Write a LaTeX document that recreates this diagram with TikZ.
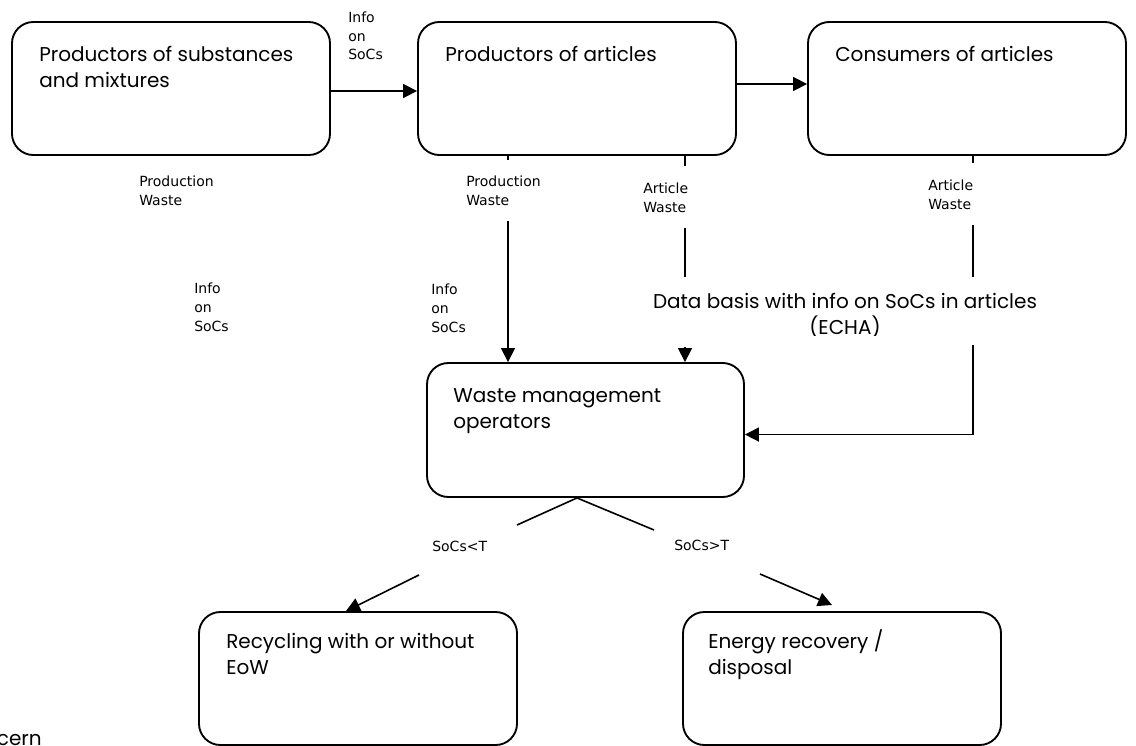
\documentclass[tikz,border=0pt]{standalone}
\usepackage{fontspec}
\setmainfont{Poppins}
\newfontfamily\smallfont{DejaVu Sans}
\usetikzlibrary{arrows.meta}
\begin{document}
\begin{tikzpicture}[x=0.75pt,y=-0.75pt,
  box/.style={draw, line width=1.4pt, rounded corners=16pt, minimum width=238.5pt, minimum height=99.75pt, inner sep=0pt},
  big/.style={font=\fontsize{15pt}{19.5pt}\selectfont, inner sep=0pt, align=left, anchor=base west},
  lbl/.style={font=\smallfont\fontsize{10.5pt}{14pt}\selectfont, inner sep=0pt, align=left, anchor=base west},
  conn/.style={line width=1.2pt},
  arr/.style={conn, -{Triangle[length=10.5pt,width=10.5pt]}}]
\useasboundingbox (0,0) rectangle (1136,746);
\clip (0,0) rectangle (1136,746);
% boxes
\node[box] (b1) at (171,88.5) {};
\node[box] (b2) at (577,88.5) {};
\node[box] (b3) at (967,88.5) {};
\node[box, minimum width=237.75pt, minimum height=100.5pt] (wm) at (585.5,430) {};
\node[box] (rc) at (358,678.5) {};
\node[box] (en) at (842,678.5) {};
% box texts (base = last line baseline)
\node[big] (t1) at (39,87) {Productors of substances\\and mixtures};
\node[big] (t2) at (445,61) {Productors of articles};
\node[big] (t3) at (835,61) {Consumers of articles};
\node[big] (t4) at (453,428) {Waste management\\operators};
\node[big] (t5) at (226,674) {Recycling with or without\\EoW};
\node[big] (t6) at (708,674) {Energy recovery /\\disposal};
\begin{scope}
\clip (600,270) rectangle (1100,335);
\node[big, align=center, anchor=base] (db) at (845,334) {Data basis with info on SoCs in articles\\(ECHA)};
\end{scope}
\node[big, anchor=base east] (cern) at (42,745) {cern};
% small labels
\node[lbl] (i1) at (348,60) {Info\\on\\SoCs};
\node[lbl] (pw1) at (139,205) {Production\\Waste};
\node[lbl] (pw2) at (466,205) {Production\\Waste};
\node[lbl] (aw1) at (643,212) {Article\\Waste};
\node[lbl] (aw2) at (928,209) {Article\\Waste};
\node[lbl] (i2) at (194,331) {Info\\on\\SoCs};
\node[lbl] (i3) at (431,332) {Info\\on\\SoCs};
\node[lbl] (lt) at (432,551) {SoCs<T};
\node[lbl] (gt) at (674,550) {SoCs>T};
% top arrows
\draw[arr] (b1.east |- 0,91) -- (b2.west |- 0,91);
\draw[arr] (b2.east |- 0,84) -- (b3.west |- 0,84);
% production waste column
\coordinate (p1) at (508,160);
\coordinate (p2) at (508,221);
\draw[conn] (b2.south -| p1) -- (p1);
\draw[arr] (p2) -- (wm.north -| p2);
% article waste column (producers)
\coordinate (a1) at (685,166);
\coordinate (a2) at (685,228);
\coordinate (a3) at (685,277);
\coordinate (a4) at (685,347);
\draw[conn] (b2.south -| a1) -- (a1);
\draw[conn] (a2) -- (a3);
\draw[arr] (a4) -- (wm.north -| a4);
% article waste column (consumers)
\coordinate (c1) at (973,163);
\coordinate (c2) at (973,225);
\coordinate (c3) at (973,277);
\coordinate (c4) at (973,345);
\draw[conn] (b3.south -| c1) -- (c1);
\draw[conn] (c2) -- (c3);
\draw[arr] (c4) |- ([yshift=-3.4pt]wm.east);
% branches
\coordinate (s0) at (577,497);
\coordinate (l1) at (517,525);
\coordinate (r1) at (654,530);
\coordinate (l2) at (419,575);
\coordinate (l3) at (346,611);
\coordinate (r2) at (760,574);
\coordinate (r3) at (832,605);
\draw[conn] (wm.south -| s0) -- (l1);
\draw[conn] (wm.south -| s0) -- (r1);
\draw[arr] (l2) -- (rc.north -| l3);
\draw[arr] (r2) -- (r3);
\end{tikzpicture}
\end{document}
